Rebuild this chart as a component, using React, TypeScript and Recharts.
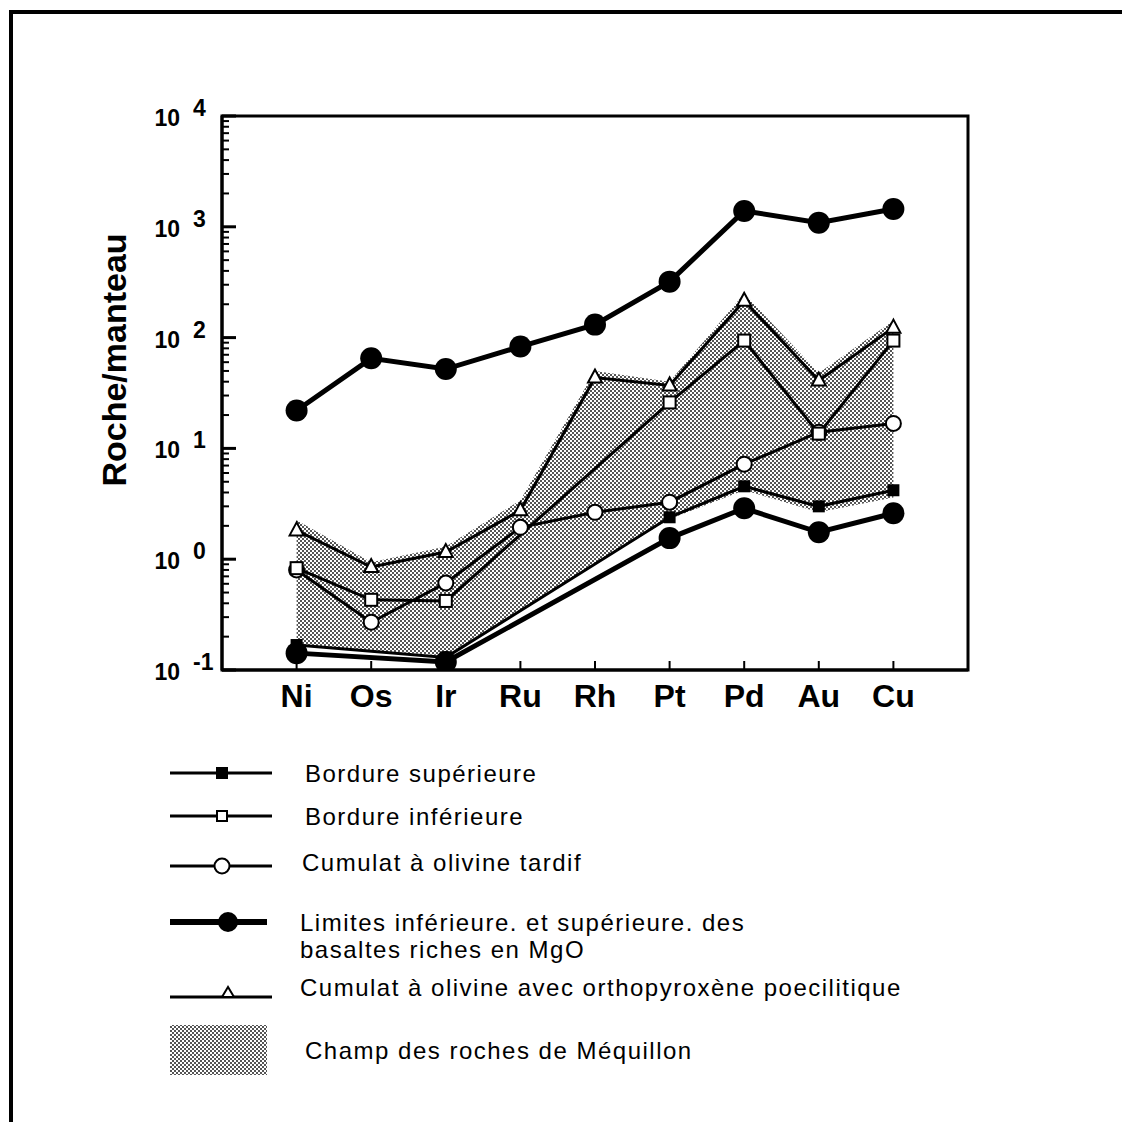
import React from "react";
import { ComposedChart, Line, Area, XAxis, YAxis, ReferenceArea } from "recharts";

// Éléments (abscisse)
const ELEMENTS = ["Ni", "Os", "Ir", "Ru", "Rh", "Pt", "Pd", "Au", "Cu"];

// Valeurs normalisées au manteau (null = pas de point)
const basaltesSup = [22, 65, 52, 83, 131, 320, 1390, 1090, 1450];
const basaltesInf = [0.142, null, 0.118, null, null, 1.55, 2.88, 1.75, 2.6];
const bordureSup = [0.168, null, 0.13, null, null, 2.39, 4.55, 3.0, 4.19];
const bordureInf = [0.83, 0.43, 0.42, null, null, 26, 94, 13.6, 94];
const cumulatTardif = [0.8, 0.27, 0.61, 1.94, 2.65, 3.27, 7.2, 14, 16.8];
const cumulatPoecilitique = [1.82, 0.85, 1.16, 2.76, 43.6, 37, 215, 41, 123];

// Champ des roches de Méquillon (bornes basse / haute)
const champBas = [0.165, 0.15, 0.135, 0.35, 0.9, 2.3, 4.2, 2.65, 3.6];
const champHaut = [2.25, 0.94, 1.3, 3.4, 50, 40, 250, 48, 142];

// graduations log
const MAJOR_TICKS = [0.1, 1, 10, 100, 1000, 10000];
const MINOR_STEPS = [2, 3, 4, 5, 6, 7, 8, 9];

const LEGEND_LABELS = [
  "Bordure supérieure",
  "Bordure inférieure",
  "Cumulat à olivine tardif",
  "Limites inférieure. et supérieure. des",
  "basaltes riches en MgO",
  "Cumulat à olivine avec orthopyroxène poecilitique",
  "Champ des roches de Méquillon",
];

const FONT = '"Liberation Sans", Arial, Helvetica, sans-serif';

const data = ELEMENTS.map((el, i) => ({
  x: i,
  el,
  basSup: basaltesSup[i],
  basInf: basaltesInf[i],
  bordSup: bordureSup[i],
  bordInf: bordureInf[i],
  tardif: cumulatTardif[i],
  poeci: cumulatPoecilitique[i],
  champ: [champBas[i], champHaut[i]],
}));

const yTicks: number[] = [];
MAJOR_TICKS.forEach((m, i) => {
  yTicks.push(m);
  if (i < MAJOR_TICKS.length - 1) MINOR_STEPS.forEach((s) => yTicks.push(m * s));
});

// formes des symboles
const Marker = ({ kind, cx, cy }: { kind: string; cx: number; cy: number }) => {
  if (kind === "bigCircle") return <circle cx={cx} cy={cy} r={11} fill="#000" />;
  if (kind === "fillSquare")
    return <rect x={cx - 6} y={cy - 6} width={12} height={12} fill="#000" />;
  if (kind === "openSquare")
    return (
      <rect x={cx - 6} y={cy - 6} width={12} height={12} fill="#fff" stroke="#000" strokeWidth={2} />
    );
  if (kind === "openCircle")
    return <circle cx={cx} cy={cy} r={7.5} fill="#fff" stroke="#000" strokeWidth={2} />;
  // triangle ouvert
  return (
    <polygon
      points={`${cx},${cy - 8} ${cx - 7},${cy + 5} ${cx + 7},${cy + 5}`}
      fill="#fff"
      stroke="#000"
      strokeWidth={2}
    />
  );
};

const dotOf = (kind: string) => (props: any) => {
  const { cx, cy, value, index } = props;
  if (cx == null || cy == null || value == null || Number.isNaN(cy))
    return <g key={`${kind}-${index}`} />;
  return (
    <g key={`${kind}-${index}`}>
      <Marker kind={kind} cx={cx} cy={cy} />
    </g>
  );
};

const YTick = (props: any) => {
  const { x, y, payload } = props;
  const v = payload.value;
  const exp = Math.round(Math.log10(v));
  const major = Math.abs(v - Math.pow(10, exp)) < 1e-9 * v;
  return (
    <g>
      <line x1={x} y1={y} x2={x + (major ? 14 : 7)} y2={y} stroke="#000" strokeWidth={major ? 3 : 2} />
      {major && (
        <>
          <text x={x - 42} y={y + 10} textAnchor="end" fontSize={23} fontWeight="bold" fontFamily={FONT} fill="#000">
            10
          </text>
          <text x={x - 29} y={y} textAnchor="start" fontSize={23} fontWeight="bold" fontFamily={FONT} fill="#000">
            {exp}
          </text>
        </>
      )}
    </g>
  );
};

const XTick = (props: any) => {
  const { x, y, payload } = props;
  return (
    <g>
      <line x1={x} y1={y} x2={x} y2={y - 9} stroke="#000" strokeWidth={2} />
      <text x={x} y={y + 37} textAnchor="middle" fontSize={32} fontWeight="bold" fontFamily={FONT} fill="#000">
        {ELEMENTS[payload.value]}
      </text>
    </g>
  );
};

const Dots = ({ id }: { id: string }) => (
  <pattern id={id} width={4} height={4} patternUnits="userSpaceOnUse">
    <rect x={0} y={0} width={4} height={4} fill="#fff" />
    <rect x={0} y={0} width={2} height={2} fill="#555" />
    <rect x={2} y={2} width={2} height={2} fill="#555" />
  </pattern>
);

const LegendIcon = ({ kind, y }: { kind: string; y: number }) => {
  if (kind === "field") return <rect x={170} y={1025} width={97} height={50} fill="url(#dotsLegend)" />;
  const thick = kind === "bigCircle";
  const mx = kind === "bigCircle" || kind === "triangle" ? 228 : 222;
  return (
    <g>
      <line x1={170} y1={y} x2={thick ? 267 : 272} y2={y} stroke="#000" strokeWidth={thick ? 6 : 3} />
      {kind === "triangle" ? (
        <polygon points={`${mx},${y - 10} ${mx - 6},${y} ${mx + 6},${y}`} fill="#fff" stroke="#000" strokeWidth={2} />
      ) : kind === "bigCircle" ? (
        <circle cx={mx} cy={y} r={10} fill="#000" />
      ) : kind === "openSquare" ? (
        <rect x={mx - 5} y={y - 5} width={10} height={10} fill="#fff" stroke="#000" strokeWidth={2} />
      ) : (
        <Marker kind={kind} cx={mx} cy={y} />
      )}
    </g>
  );
};

const legendRows = [
  { kind: "fillSquare", y: 773, lines: [LEGEND_LABELS[0]], tx: 305, ty: 773 },
  { kind: "openSquare", y: 816, lines: [LEGEND_LABELS[1]], tx: 305, ty: 816 },
  { kind: "openCircle", y: 866, lines: [LEGEND_LABELS[2]], tx: 302, ty: 862 },
  { kind: "bigCircle", y: 922, lines: [LEGEND_LABELS[3], LEGEND_LABELS[4]], tx: 300, ty: 922 },
  { kind: "triangle", y: 997, lines: [LEGEND_LABELS[5]], tx: 300, ty: 987 },
  { kind: "field", y: 1050, lines: [LEGEND_LABELS[6]], tx: 305, ty: 1050 },
];

export default function App() {
  return (
    <div style={{ position: "absolute", left: 0, top: 0, width: 1122, height: 1122, background: "#fff", fontFamily: FONT }}>
      {/* cadre extérieur (haut + gauche) */}
      <div
        style={{
          position: "absolute",
          left: 9,
          top: 10,
          width: 1113,
          height: 1112,
          borderTop: "4px solid #000",
          borderLeft: "4px solid #000",
          boxSizing: "border-box",
        }}
      />
      <div style={{ position: "absolute", left: 0, top: 0 }}>
        <ComposedChart width={1122} height={1122} data={data} margin={{ top: 116, right: 154, bottom: 412, left: 162 }}>
          <defs>
            <Dots id="dotsField" />
          </defs>
          <XAxis
            dataKey="x"
            type="number"
            domain={[-1, 9]}
            ticks={[0, 1, 2, 3, 4, 5, 6, 7, 8]}
            interval={0}
            height={40}
            tickSize={0}
            tickMargin={0}
            tick={<XTick />}
            axisLine={{ stroke: "#000", strokeWidth: 3 }}
            tickLine={false}
            allowDataOverflow
          />
          <YAxis
            scale="log"
            type="number"
            domain={[0.1, 10000]}
            ticks={yTicks}
            interval={0}
            width={60}
            tickSize={0}
            tickMargin={0}
            tick={<YTick />}
            axisLine={{ stroke: "#000", strokeWidth: 3 }}
            tickLine={false}
            allowDataOverflow
          />
          <ReferenceArea x1={-1} x2={9} y1={0.1} y2={10000} fill="none" stroke="#000" strokeWidth={3} ifOverflow="visible" />
          <Area
            dataKey="champ"
            stroke="none"
            fill="url(#dotsField)"
            fillOpacity={1}
            isAnimationActive={false}
            dot={false}
            activeDot={false}
          />
          <Line dataKey="basSup" stroke="#000" strokeWidth={5} dot={dotOf("bigCircle")} activeDot={false} connectNulls isAnimationActive={false} />
          <Line dataKey="basInf" stroke="#000" strokeWidth={5} dot={dotOf("bigCircle")} activeDot={false} connectNulls isAnimationActive={false} />
          <Line dataKey="bordSup" stroke="#000" strokeWidth={3} dot={dotOf("fillSquare")} activeDot={false} connectNulls isAnimationActive={false} />
          <Line dataKey="tardif" stroke="#000" strokeWidth={3} dot={dotOf("openCircle")} activeDot={false} connectNulls isAnimationActive={false} />
          <Line dataKey="bordInf" stroke="#000" strokeWidth={3} dot={dotOf("openSquare")} activeDot={false} connectNulls isAnimationActive={false} />
          <Line dataKey="poeci" stroke="#000" strokeWidth={3} dot={dotOf("triangle")} activeDot={false} connectNulls isAnimationActive={false} />
        </ComposedChart>
      </div>
      <svg width={1122} height={1122} style={{ position: "absolute", left: 0, top: 0, pointerEvents: "none" }}>
        <defs>
          <Dots id="dotsLegend" />
        </defs>
        <text
          transform="translate(114,360) rotate(-90)"
          textAnchor="middle"
          dominantBaseline="central"
          fontSize={34}
          fontWeight="bold"
          fontFamily={FONT}
          fill="#000"
        >
          Roche/manteau
        </text>
        {legendRows.map((r, i) => (
          <g key={i}>
            <LegendIcon kind={r.kind} y={r.y} />
            {r.lines.map((t, j) => (
              <text
                key={j}
                x={r.tx}
                y={r.ty + j * 27}
                dominantBaseline="central"
                fontSize={24}
                letterSpacing={1.5}
                fontFamily={FONT}
                fill="#000"
              >
                {t}
              </text>
            ))}
          </g>
        ))}
      </svg>
    </div>
  );
}
